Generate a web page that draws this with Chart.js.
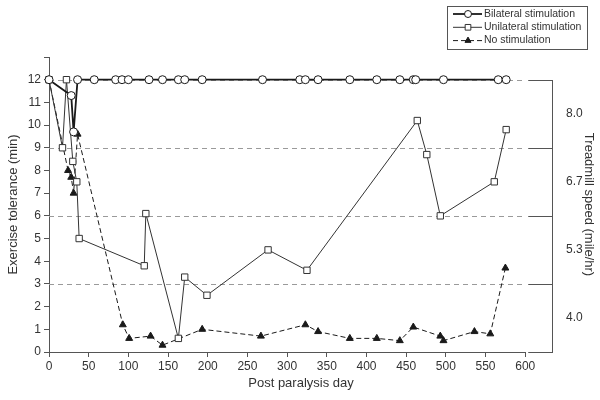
<!DOCTYPE html>
<html lang="en">
<head>
    <meta charset="UTF-8">
    <title>Exercise tolerance</title>
    <script src="https://cdn.jsdelivr.net/npm/chart.js"></script>
    <style>
        body {
            margin: 0;
            background: #fff;
        }
        .chart-container {
            width: 600px;
            height: 400px;
        }
    </style>
</head>
<body>
    <div class="chart-container">
        <canvas id="toleranceChart"></canvas>
    </div>

    <script>
        // data (day, minutes)
        const bilateralDay = [0, 28, 31, 36, 57, 84, 92, 100, 126, 143, 163, 171, 193, 269, 316, 323, 339, 379, 413, 442, 459, 462, 497, 566, 576];
        const bilateralMin = [12, 11.3, 9.7, 12, 12, 12, 12, 12, 12, 12, 12, 12, 12, 12, 12, 12, 12, 12, 12, 12, 12, 12, 12, 12, 12];

        const unilateralDay = [0, 17, 22, 30, 35, 38, 120, 122, 163, 171, 199, 276, 325, 464, 476, 493, 561, 576];
        const unilateralMin = [12, 9, 12, 8.4, 7.5, 5.0, 3.8, 6.1, 0.6, 3.3, 2.5, 4.5, 3.6, 10.2, 8.7, 6.0, 7.5, 9.8];

        const noStimDay = [0, 24, 28, 31, 36, 93, 101, 128, 143, 193, 267, 323, 339, 379, 413, 442, 459, 493, 497, 536, 556, 575];
        const noStimMin = [12, 8.0, 7.7, 7.0, 9.6, 1.2, 0.6, 0.7, 0.3, 1.0, 0.7, 1.2, 0.9, 0.6, 0.6, 0.5, 1.1, 0.7, 0.5, 0.9, 0.8, 3.7];

        // axis ticks
        const dayTicks = [0, 50, 100, 150, 200, 250, 300, 350, 400, 450, 500, 550, 600];
        // treadmill speed bands on the right axis
        const speedLevels = [3, 6, 9, 12];
        const speedLabelPos = [1.5, 4.5, 7.5, 10.5];
        const speedLabels = ['4.0', '5.3', '6.7', '8.0'];

        const toPoints = (days, vals) => days.map((d, i) => ({ x: d, y: vals[i] }));

        const ink = '#1a1a1a';
        const textColor = '#333';
        const axisColor = '#555';
        const fontFamily = '"Liberation Sans", Arial, sans-serif';

        // dashed speed guides, right axis and stubs
        const guidesPlugin = {
            id: 'guides',
            beforeDatasetsDraw(chart) {
                const { ctx, chartArea } = chart;
                const x = chart.scales.x;
                const y = chart.scales.y;
                const xEnd = x.getPixelForValue(600);
                ctx.save();
                ctx.lineWidth = 1;
                ctx.strokeStyle = '#9a9a9a';
                ctx.setLineDash([5, 4]);
                speedLevels.forEach(v => {
                    const py = Math.round(y.getPixelForValue(v)) + 0.5;
                    ctx.beginPath();
                    ctx.moveTo(chartArea.left, py);
                    ctx.lineTo(xEnd, py);
                    ctx.stroke();
                });
                ctx.setLineDash([]);
                ctx.strokeStyle = axisColor;
                [0].concat(speedLevels).forEach(v => {
                    const py = Math.round(y.getPixelForValue(v)) + 0.5;
                    ctx.beginPath();
                    ctx.moveTo(xEnd + 3, py);
                    ctx.lineTo(chartArea.right, py);
                    ctx.stroke();
                });
                const rx = Math.round(chartArea.right) - 0.5;
                ctx.beginPath();
                ctx.moveTo(rx, Math.round(y.getPixelForValue(12)) + 0.5);
                ctx.lineTo(rx, Math.round(y.getPixelForValue(0)) + 0.5);
                ctx.stroke();
                const by = Math.round(y.getPixelForValue(0)) + 0.5;
                ctx.beginPath();
                ctx.moveTo(chartArea.left, by);
                ctx.lineTo(xEnd, by);
                ctx.stroke();
                ctx.restore();
            }
        };

        // boxed legend in the top right corner
        const boxLegendPlugin = {
            id: 'boxLegend',
            afterDraw(chart) {
                const ctx = chart.ctx;
                const left = 447, top = 6, w = 140, h = 43;
                ctx.save();
                ctx.lineWidth = 1;
                ctx.strokeStyle = axisColor;
                ctx.strokeRect(left + 0.5, top + 0.5, w, h);
                ctx.font = '10.5px ' + fontFamily;
                ctx.textBaseline = 'middle';
                chart.data.datasets.forEach((ds, i) => {
                    const cy = top + 8 + i * 13.3;
                    ctx.save();
                    ctx.strokeStyle = ds.borderColor;
                    ctx.lineWidth = ds.borderWidth;
                    ctx.setLineDash(ds.borderDash || []);
                    ctx.beginPath();
                    ctx.moveTo(left + 6, cy);
                    ctx.lineTo(left + 35, cy);
                    ctx.stroke();
                    ctx.restore();

                    ctx.save();
                    ctx.fillStyle = ds.pointBackgroundColor;
                    ctx.strokeStyle = ds.pointBorderColor;
                    ctx.lineWidth = 1;
                    Chart.helpers.drawPoint(ctx, {
                        pointStyle: ds.pointStyle,
                        radius: ds.pointRadius - 0.5,
                        borderWidth: 1
                    }, left + 21, cy);
                    ctx.restore();

                    ctx.fillStyle = textColor;
                    ctx.fillText(ds.label, left + 37, cy);
                });
                ctx.restore();
            }
        };

        const ctx = document.getElementById('toleranceChart').getContext('2d');
        const toleranceChart = new Chart(ctx, {
            type: 'line',
            data: {
                datasets: [
                    {
                        label: 'Bilateral stimulation',
                        data: toPoints(bilateralDay, bilateralMin),
                        borderColor: ink,
                        borderWidth: 1.8,
                        pointStyle: 'circle',
                        pointRadius: 4,
                        pointBackgroundColor: '#fff',
                        pointBorderColor: ink,
                        pointBorderWidth: 1
                    },
                    {
                        label: 'Unilateral stimulation',
                        data: toPoints(unilateralDay, unilateralMin),
                        borderColor: '#333',
                        borderWidth: 1,
                        pointStyle: 'rect',
                        pointRadius: 4.5,
                        pointBackgroundColor: '#fff',
                        pointBorderColor: '#333',
                        pointBorderWidth: 1
                    },
                    {
                        label: 'No stimulation',
                        data: toPoints(noStimDay, noStimMin),
                        borderColor: ink,
                        borderWidth: 1,
                        borderDash: [5, 3],
                        pointStyle: 'triangle',
                        pointRadius: 4,
                        pointBackgroundColor: ink,
                        pointBorderColor: ink,
                        pointBorderWidth: 1
                    }
                ]
            },
            options: {
                responsive: true,
                maintainAspectRatio: false,
                animation: false,
                clip: false,
                layout: {
                    padding: { top: 57, left: 0, right: 0, bottom: 0 }
                },
                plugins: {
                    legend: { display: false },
                    tooltip: { enabled: false }
                },
                scales: {
                    x: {
                        type: 'linear',
                        min: 0,
                        max: 635,
                        afterBuildTicks: scale => {
                            scale.ticks = dayTicks.map(v => ({ value: v }));
                        },
                        afterFit: scale => { scale.height = 48; },
                        ticks: {
                            color: textColor,
                            padding: 2,
                            maxRotation: 0,
                            autoSkip: false,
                            font: { family: fontFamily, size: 12 }
                        },
                        grid: {
                            drawOnChartArea: false,
                            tickLength: 5,
                            color: axisColor
                        },
                        border: { display: false },
                        title: {
                            display: true,
                            text: 'Post paralysis day',
                            color: textColor,
                            padding: { top: 4, bottom: 9 },
                            font: { family: fontFamily, size: 13 }
                        }
                    },
                    y: {
                        min: 0,
                        max: 13,
                        afterFit: scale => { scale.width = 49; },
                        ticks: {
                            stepSize: 1,
                            color: textColor,
                            padding: 3,
                            callback: v => (v === 13 ? '' : v),
                            font: { family: fontFamily, size: 12 }
                        },
                        grid: {
                            drawOnChartArea: false,
                            tickLength: 5,
                            color: axisColor
                        },
                        border: { color: axisColor },
                        title: {
                            display: true,
                            text: 'Exercise tolerance (min)',
                            color: textColor,
                            padding: { top: 6, bottom: 4 },
                            font: { family: fontFamily, size: 13 }
                        }
                    },
                    y2: {
                        position: 'right',
                        min: 0,
                        max: 13,
                        afterBuildTicks: scale => {
                            scale.ticks = speedLabelPos.map(v => ({ value: v }));
                        },
                        afterFit: scale => { scale.width = 47; },
                        ticks: {
                            color: textColor,
                            padding: 5,
                            callback: (v, i) => speedLabels[i],
                            font: { family: fontFamily, size: 12 }
                        },
                        grid: { display: false },
                        border: { display: false },
                        title: {
                            display: true,
                            text: 'Treadmill speed (mile/hr)',
                            color: textColor,
                            padding: { top: 4, bottom: 4 },
                            font: { family: fontFamily, size: 13 }
                        }
                    }
                }
            },
            plugins: [guidesPlugin, boxLegendPlugin]
        });
    </script>
</body>
</html>
